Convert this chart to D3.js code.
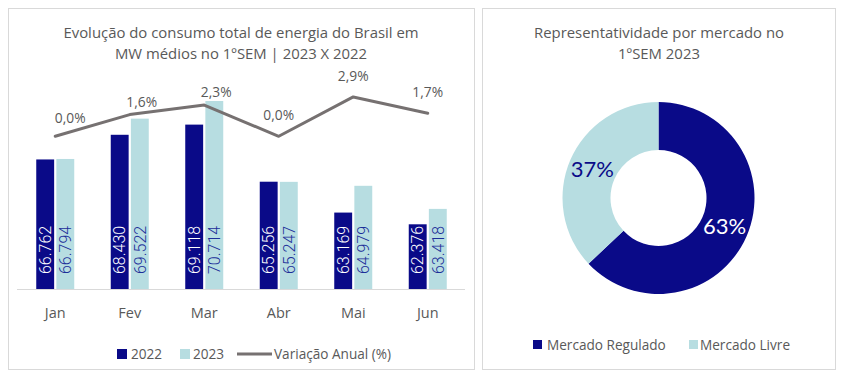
<!DOCTYPE html>
<html>
<head>
<meta charset="utf-8">
<script src="https://cdn.jsdelivr.net/npm/d3@7"></script>
<style>
  html, body { margin: 0; padding: 0; background: #ffffff; }
  svg { display: block; }
</style>
</head>
<body>
<svg id="chart" width="844" height="378"></svg>
<script>
// ---- Data ----
const months = ["Jan", "Fev", "Mar", "Abr", "Mai", "Jun"];
const values2022 = [66762, 68430, 69118, 65256, 63169, 62376];
const values2023 = [66794, 69522, 70714, 65247, 64979, 63418];
const variacao = [0.0, 1.6, 2.3, 0.0, 2.9, 1.7];
const seriesNames = ["2022", "2023", "Variação Anual (%)"];
const marketNames = ["Mercado Regulado", "Mercado Livre"];
const marketShare = [63, 37];
const titleLeft = ["Evolução do consumo total de energia do Brasil em", "MW médios no 1ºSEM | 2023 X 2022"];
const titleRight = ["Representatividade por mercado no", "1ºSEM 2023"];

// ---- Styles ----
const NAVY = "#0a0a88";
const LIGHT = "#b7dde1";
const LINE = "#767171";
const TEXT = "#595959";
const FONT = "'Open Sans', 'Noto Sans', sans-serif";

const svg = d3.select("#chart");

// Panels
svg.append("rect").attr("x", 8.5).attr("y", 8.5).attr("width", 466).attr("height", 361)
  .attr("fill", "#fff").attr("stroke", "#d9d9d9").attr("stroke-width", 1);
svg.append("rect").attr("x", 482.5).attr("y", 8.5).attr("width", 353).attr("height", 361)
  .attr("fill", "#fff").attr("stroke", "#d9d9d9").attr("stroke-width", 1);

// ---- Left chart ----
const plot = { left: 18, right: 465, top: 82, bottom: 289 };

svg.append("g").selectAll("text").data(titleLeft).join("text")
  .attr("x", 241).attr("y", (d, i) => 38 + i * 21)
  .attr("text-anchor", "middle").attr("font-family", FONT).attr("font-size", 14.9)
  .attr("fill", TEXT).text(d => d);

const x0 = d3.scaleBand().domain(months).range([plot.left, plot.right]).paddingInner(0).paddingOuter(0);
const x1 = d3.scaleBand().domain(["2022", "2023"]).range([0, 38]).paddingInner(0.11);
const yBar = d3.scaleLinear().domain([58000, 72000]).range([plot.bottom, plot.top]);
const yPct = d3.scaleLinear().domain([-11.25, 4]).range([plot.bottom, plot.top]);

const groupOffset = (x0.bandwidth() - 38) / 2;

const barData = months.map((m, i) => [
  { m, key: "2022", v: values2022[i] },
  { m, key: "2023", v: values2023[i] }
]).flat();

const barsG = svg.append("g");
barsG.selectAll("rect").data(barData).join("rect")
  .attr("x", d => x0(d.m) + groupOffset + x1(d.key))
  .attr("width", x1.bandwidth())
  .attr("y", d => yBar(d.v))
  .attr("height", d => plot.bottom - yBar(d.v))
  .attr("fill", d => d.key === "2022" ? NAVY : LIGHT);

const fmt = d3.format(",.0f");
barsG.selectAll("text").data(barData).join("text")
  .attr("transform", d => {
    const cx = x0(d.m) + groupOffset + x1(d.key) + x1.bandwidth() / 2;
    return `translate(${cx},${plot.bottom - 15}) rotate(-90)`;
  })
  .attr("dy", "0.36em")
  .attr("text-anchor", "start")
  .attr("font-family", "Roboto, sans-serif").attr("font-weight", 300).attr("font-size", 16)
  .attr("fill", d => d.key === "2022" ? "#ffffff" : "#1c2e99")
  .text(d => fmt(d.v).replace(/,/g, "."));

// x axis
const xAxis = d3.axisBottom(x0).tickSize(0).tickPadding(0);
const axG = svg.append("g").attr("transform", `translate(0,${plot.bottom})`).call(xAxis);
axG.select(".domain").attr("stroke", "#d9d9d9").attr("stroke-width", 1)
  .attr("d", `M${plot.left - 1},0.5H${plot.right}`);
axG.selectAll(".tick text").attr("font-family", FONT).attr("font-size", 14.5)
  .attr("fill", TEXT).attr("dy", "0").attr("y", 29);

// line
const lineGen = d3.line()
  .x((d, i) => x0(months[i]) + x0.bandwidth() / 2)
  .y(d => yPct(d));
svg.append("path").datum(variacao)
  .attr("d", lineGen).attr("fill", "none").attr("stroke", LINE)
  .attr("stroke-width", 3).attr("stroke-linejoin", "round").attr("stroke-linecap", "round");

const labelNudge = [[15, -13], [12, -8], [12, -8], [0, -16], [0, -16], [0, -16]];
svg.append("g").selectAll("text").data(variacao).join("text")
  .attr("x", (d, i) => x0(months[i]) + x0.bandwidth() / 2 + labelNudge[i][0])
  .attr("y", (d, i) => yPct(d) + labelNudge[i][1])
  .attr("text-anchor", "middle").attr("font-family", FONT).attr("font-size", 13.8)
  .attr("fill", TEXT).text(d => d3.format(".1f")(d).replace(".", ",") + "%");

// legend left
const legL = svg.append("g").attr("font-family", FONT).attr("font-size", 13.6).attr("fill", TEXT);
legL.append("rect").attr("x", 117).attr("y", 349).attr("width", 10).attr("height", 10).attr("fill", NAVY);
legL.append("text").attr("x", 131).attr("y", 359).text(seriesNames[0]);
legL.append("rect").attr("x", 180).attr("y", 349).attr("width", 10).attr("height", 10).attr("fill", LIGHT);
legL.append("text").attr("x", 193).attr("y", 359).text(seriesNames[1]);
legL.append("line").attr("x1", 237).attr("x2", 272).attr("y1", 354).attr("y2", 354)
  .attr("stroke", LINE).attr("stroke-width", 3);
legL.append("text").attr("x", 274).attr("y", 359).text(seriesNames[2]);

// ---- Right chart: donut ----
svg.append("g").selectAll("text").data(titleRight).join("text")
  .attr("x", 659).attr("y", (d, i) => 38 + i * 21)
  .attr("text-anchor", "middle").attr("font-family", FONT).attr("font-size", 14.9)
  .attr("fill", TEXT).text(d => d);

const cx = 658.5, cy = 198, R = 96, r = 48;
const pie = d3.pie().sort(null).value(d => d)(marketShare);
const arc = d3.arc().innerRadius(r).outerRadius(R);
const colors = [NAVY, LIGHT];
const donut = svg.append("g").attr("transform", `translate(${cx},${cy})`);
donut.selectAll("path").data(pie).join("path")
  .attr("d", arc).attr("fill", (d, i) => colors[i]);
donut.selectAll("text").data(pie).join("text")
  .attr("transform", d => `translate(${arc.centroid(d)})`)
  .attr("dy", "0.35em").attr("text-anchor", "middle")
  .attr("font-family", "Lato, sans-serif").attr("font-size", 22)
  .attr("fill", (d, i) => i === 0 ? "#ffffff" : NAVY)
  .text(d => d.data + "%");

// legend right
const legR = svg.append("g").attr("font-family", FONT).attr("font-size", 13.6).attr("fill", TEXT);
legR.append("rect").attr("x", 533).attr("y", 340).attr("width", 9).attr("height", 9).attr("fill", NAVY);
legR.append("text").attr("x", 547).attr("y", 350).text(marketNames[0]);
legR.append("rect").attr("x", 689).attr("y", 340).attr("width", 9).attr("height", 9).attr("fill", LIGHT);
legR.append("text").attr("x", 700).attr("y", 350).text(marketNames[1]);
</script>
</body>
</html>
